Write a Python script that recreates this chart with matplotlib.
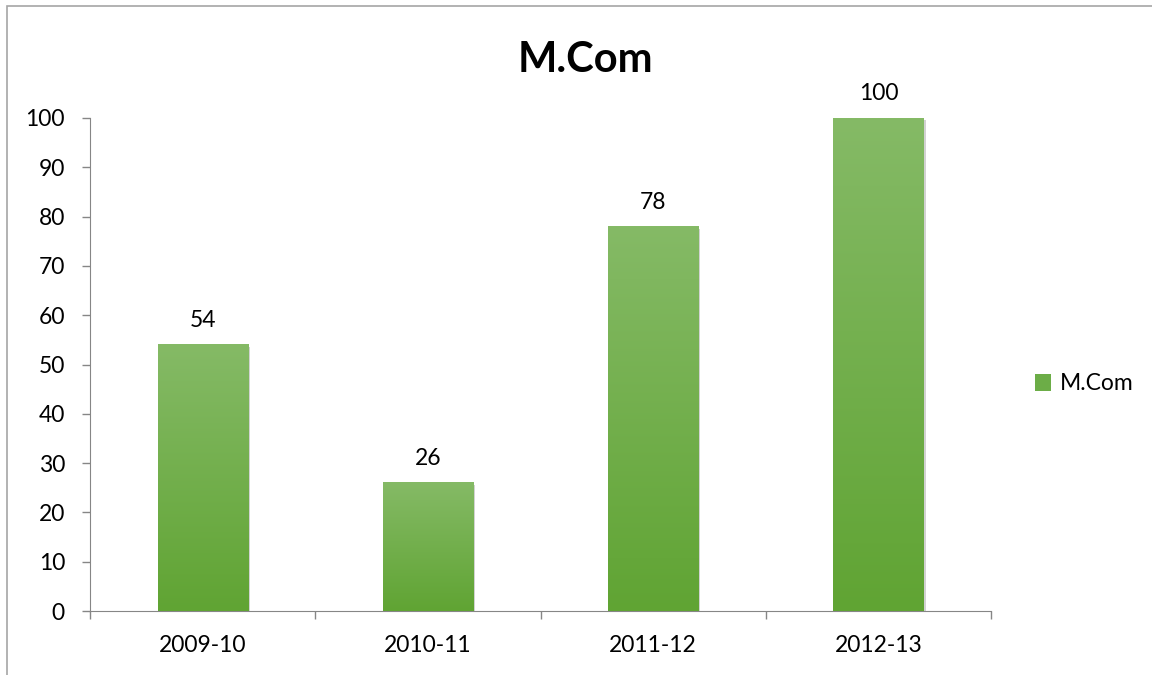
import matplotlib
matplotlib.use("Agg")
import matplotlib.pyplot as plt
import matplotlib.patheffects as pe
from matplotlib.patches import Rectangle, Patch
from matplotlib.colors import LinearSegmentedColormap
import numpy as np

years = ["2009-10", "2010-11", "2011-12", "2012-13"]
mcom = [54, 26, 78, 100]
series_name = "M.Com"

plt.rcParams['font.family'] = ['Lato', 'DejaVu Sans']

fig = plt.figure(figsize=(11.52, 6.75), dpi=100)
ax = fig.add_axes([90/1152, 1 - 611/675, (991 - 90)/1152, (611 - 118)/675])

grad = LinearSegmentedColormap.from_list("g", ["#60a433", "#85ba66"])
x = np.arange(len(years))
bars = ax.bar(x, mcom, width=0.4, color="#6cad47", zorder=2,
              path_effects=[pe.SimplePatchShadow(offset=(1.5, -1.5), shadow_rgbFace="gray", alpha=0.35),
                            pe.Normal()])
g = np.linspace(0, 1, 256).reshape(-1, 1)
for b in bars:
    ax.imshow(g, cmap=grad, origin="lower", aspect="auto", zorder=3,
              extent=[b.get_x(), b.get_x() + b.get_width(), 0, b.get_height()])

for xi, v in zip(x, mcom):
    ax.annotate(str(v), (xi, v), xytext=(0, 10), textcoords="offset points",
                ha="center", va="bottom", fontsize=16.5, color="#000000")

ax.set_xlim(-0.5, len(years) - 0.5)
ax.set_ylim(0, 100)
ax.set_yticks(range(0, 101, 10))
ax.set_xticks(x)
ax.set_xticklabels(years)
ax.set_xticks(np.arange(-0.5, len(years)), minor=True)
ax.tick_params(axis="x", which="major", length=0, pad=17, labelsize=16.5)
ax.tick_params(axis="x", which="minor", length=6, color="#868686", width=1)
ax.tick_params(axis="y", length=6, color="#868686", width=1, pad=12, labelsize=16.5)
for s in ["top", "right"]:
    ax.spines[s].set_visible(False)
for s in ["left", "bottom"]:
    ax.spines[s].set_color("#868686")

fig.text(585/1152, 1 - 60/675, "M.Com", ha="center", va="center",
         fontsize=30, fontweight="bold")

fig.legend(handles=[Patch(facecolor="#6cad47", label=series_name)],
           loc="center left", bbox_to_anchor=(1014/1152, 1 - 384/675),
           frameon=False, fontsize=16.5, handlelength=0.7, handleheight=0.7,
           handletextpad=0.4)

fig.add_artist(Rectangle((7/1152, -0.05), 1.2, 1 - 6/675 + 0.05,
                         transform=fig.transFigure, fill=False,
                         edgecolor="#a6a6a6", linewidth=1.2))

fig.savefig("out.png", dpi=100)
